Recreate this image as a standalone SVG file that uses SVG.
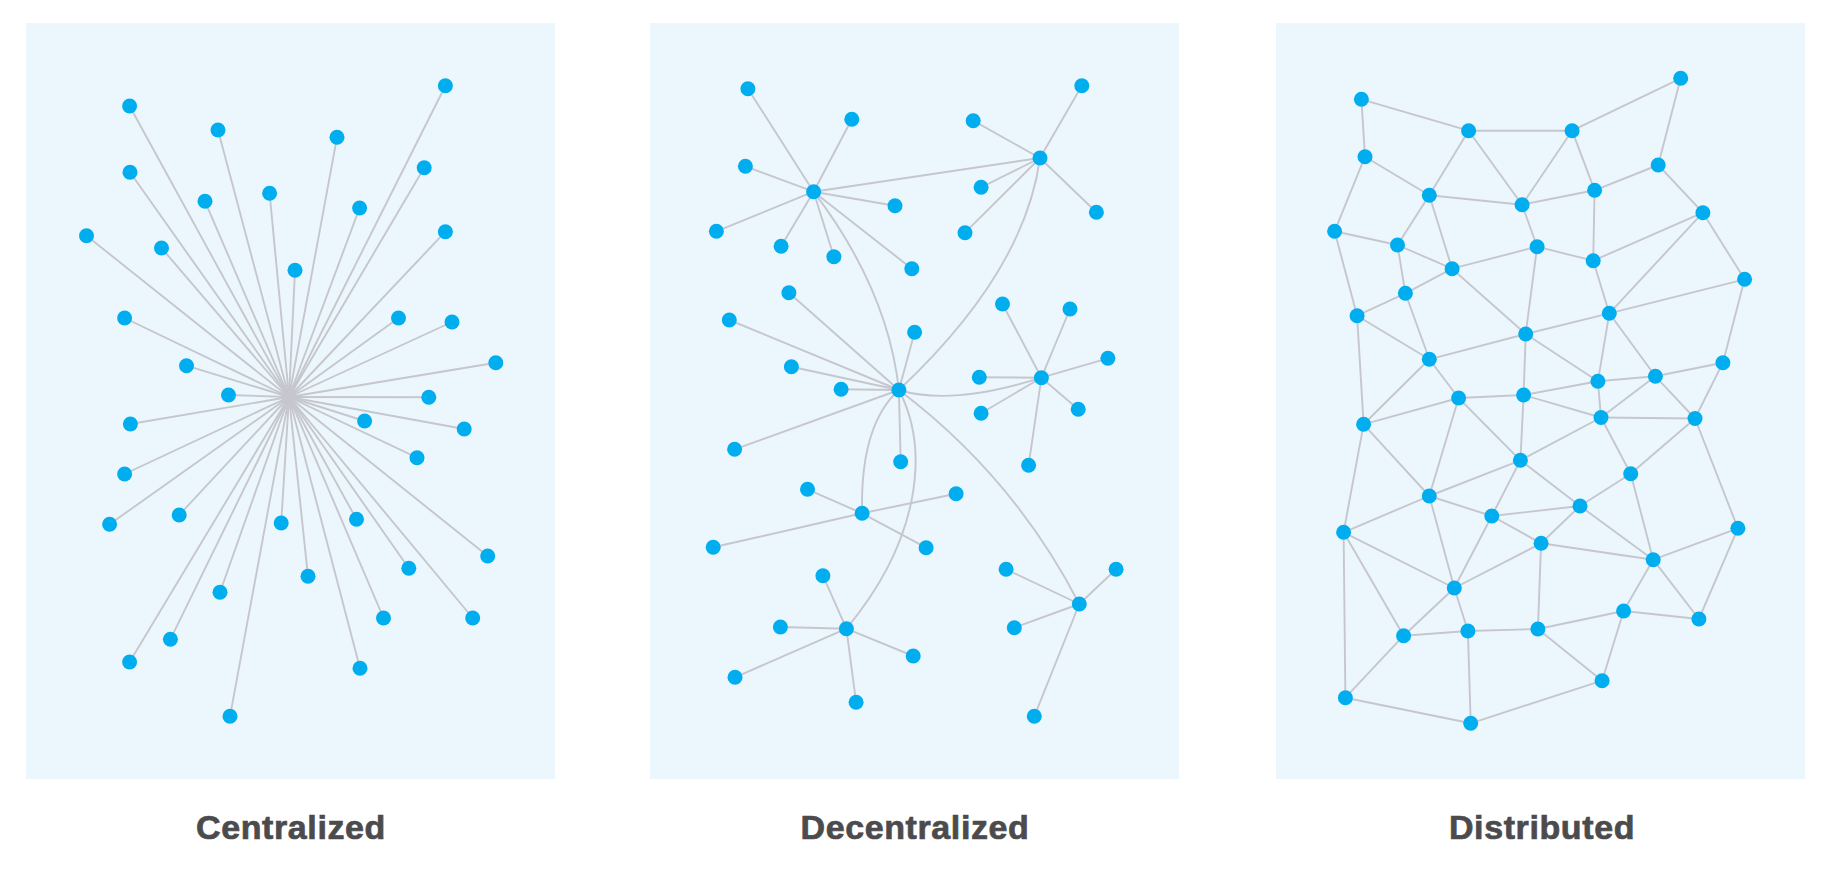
<svg xmlns="http://www.w3.org/2000/svg" width="1830" height="876" viewBox="0 0 1830 876">
<style>
.panel{fill:#ecf7fd}
.edge line,.edge path{stroke:#c6c6ce;stroke-width:1.9;fill:none;stroke-linecap:round}
.node circle{fill:#00aeef}
.label{font-family:"Liberation Sans",Arial,sans-serif;font-weight:700;font-size:34px;fill:#4b4b4d;stroke:#4b4b4d;stroke-width:0.7;text-anchor:middle;letter-spacing:0.6px}
</style>
<rect width="1830" height="876" fill="#ffffff"/>
<g id="panels">
<rect class="panel" x="26" y="23" width="529" height="756"/>
<rect class="panel" x="650" y="23" width="529" height="756"/>
<rect class="panel" x="1276" y="23" width="529" height="756"/>
</g>
<g id="connectors" class="edge">
<g id="centralized-edges">
<line x1="289" y1="397" x2="129.6" y2="106"/><line x1="289" y1="397" x2="218" y2="130"/><line x1="289" y1="397" x2="337" y2="137.3"/><line x1="289" y1="397" x2="445.4" y2="85.7"/><line x1="289" y1="397" x2="130" y2="172.3"/><line x1="289" y1="397" x2="424.2" y2="167.7"/><line x1="289" y1="397" x2="205" y2="201.3"/><line x1="289" y1="397" x2="269.6" y2="193.3"/><line x1="289" y1="397" x2="359.6" y2="208"/><line x1="289" y1="397" x2="86.5" y2="235.7"/><line x1="289" y1="397" x2="161.5" y2="248"/><line x1="289" y1="397" x2="445.4" y2="231.7"/><line x1="289" y1="397" x2="295" y2="270.3"/><line x1="289" y1="397" x2="124.6" y2="318"/><line x1="289" y1="397" x2="398.5" y2="318"/><line x1="289" y1="397" x2="452" y2="322"/><line x1="289" y1="397" x2="186.5" y2="365.7"/><line x1="289" y1="397" x2="495.8" y2="362.7"/><line x1="289" y1="397" x2="228.5" y2="395"/><line x1="289" y1="397" x2="428.8" y2="397.3"/><line x1="289" y1="397" x2="130.4" y2="424"/><line x1="289" y1="397" x2="364.6" y2="421"/><line x1="289" y1="397" x2="464.2" y2="429"/><line x1="289" y1="397" x2="417" y2="457.7"/><line x1="289" y1="397" x2="124.6" y2="474"/><line x1="289" y1="397" x2="109.6" y2="524.3"/><line x1="289" y1="397" x2="179.2" y2="515"/><line x1="289" y1="397" x2="281.2" y2="523"/><line x1="289" y1="397" x2="356.5" y2="519.3"/><line x1="289" y1="397" x2="487.7" y2="556"/><line x1="289" y1="397" x2="408.8" y2="568.3"/><line x1="289" y1="397" x2="308" y2="576.3"/><line x1="289" y1="397" x2="220" y2="592.3"/><line x1="289" y1="397" x2="383.5" y2="618"/><line x1="289" y1="397" x2="472.7" y2="618"/><line x1="289" y1="397" x2="170.4" y2="639.3"/><line x1="289" y1="397" x2="129.6" y2="662"/><line x1="289" y1="397" x2="360" y2="668.3"/><line x1="289" y1="397" x2="230" y2="716.3"/>
</g>
<g id="decentralized-edges">
<line x1="813.6" y1="191.7" x2="747.9" y2="88.7"/><line x1="813.6" y1="191.7" x2="851.8" y2="119.3"/><line x1="813.6" y1="191.7" x2="745.4" y2="166.3"/><line x1="813.6" y1="191.7" x2="716.4" y2="231.3"/><line x1="813.6" y1="191.7" x2="781.1" y2="246.3"/><line x1="813.6" y1="191.7" x2="833.9" y2="256.7"/><line x1="813.6" y1="191.7" x2="895" y2="205.7"/><line x1="813.6" y1="191.7" x2="911.8" y2="268.7"/>
<line x1="813.6" y1="191.7" x2="1040" y2="158"/>
<line x1="1040" y1="158" x2="1081.8" y2="85.7"/><line x1="1040" y1="158" x2="973.2" y2="120.7"/><line x1="1040" y1="158" x2="981.1" y2="187.3"/><line x1="1040" y1="158" x2="965" y2="232.7"/><line x1="1040" y1="158" x2="1096.4" y2="212.3"/>
<line x1="898.9" y1="390" x2="788.9" y2="292.7"/><line x1="898.9" y1="390" x2="729.3" y2="320"/><line x1="898.9" y1="390" x2="914.6" y2="332.3"/><line x1="898.9" y1="390" x2="791.4" y2="366.7"/><line x1="898.9" y1="390" x2="841.1" y2="389.3"/><line x1="898.9" y1="390" x2="734.6" y2="449.3"/><line x1="898.9" y1="390" x2="900.7" y2="461.7"/>
<path d="M813.6,191.7 Q887.8,289.2 898.9,390"/>
<path d="M1040,158 Q1024.6,272 898.9,390"/>
<path d="M898.9,390 Q951.8,406.2 1041.4,377.7"/>
<path d="M898.9,390 Q860,425 862.1,513.3"/>
<path d="M898.9,390 C930,450 920,540 846.4,628.7"/>
<path d="M898.9,390 Q1013.5,476.4 1079.3,604"/>
<line x1="1041.4" y1="377.7" x2="1002.5" y2="304"/><line x1="1041.4" y1="377.7" x2="1070" y2="309"/><line x1="1041.4" y1="377.7" x2="1107.9" y2="358.3"/><line x1="1041.4" y1="377.7" x2="979.3" y2="377.3"/><line x1="1041.4" y1="377.7" x2="981.1" y2="413.3"/><line x1="1041.4" y1="377.7" x2="1078.2" y2="409.3"/><line x1="1041.4" y1="377.7" x2="1028.6" y2="465.3"/>
<line x1="862.1" y1="513.3" x2="807.5" y2="489.3"/><line x1="862.1" y1="513.3" x2="956.1" y2="493.7"/><line x1="862.1" y1="513.3" x2="713.2" y2="547.3"/><line x1="862.1" y1="513.3" x2="926.1" y2="547.7"/>
<line x1="846.4" y1="628.7" x2="822.9" y2="575.7"/><line x1="846.4" y1="628.7" x2="780.4" y2="627"/><line x1="846.4" y1="628.7" x2="735" y2="677.3"/><line x1="846.4" y1="628.7" x2="913.2" y2="656"/><line x1="846.4" y1="628.7" x2="856.1" y2="702.3"/>
<line x1="1079.3" y1="604" x2="1006.1" y2="569.3"/><line x1="1079.3" y1="604" x2="1116.1" y2="569.3"/><line x1="1079.3" y1="604" x2="1014.3" y2="627.7"/><line x1="1079.3" y1="604" x2="1034.3" y2="716.3"/>
</g>
<g id="distributed-edges">
<line x1="1361.4" y1="99.3" x2="1468.6" y2="130.7"/><line x1="1361.4" y1="99.3" x2="1365" y2="156.7"/><line x1="1468.6" y1="130.7" x2="1572.1" y2="130.7"/><line x1="1572.1" y1="130.7" x2="1680.7" y2="78.3"/><line x1="1680.7" y1="78.3" x2="1658.2" y2="165"/><line x1="1468.6" y1="130.7" x2="1429.3" y2="195.3"/><line x1="1468.6" y1="130.7" x2="1522.1" y2="204.7"/><line x1="1572.1" y1="130.7" x2="1522.1" y2="204.7"/><line x1="1572.1" y1="130.7" x2="1594.6" y2="190.3"/><line x1="1365" y1="156.7" x2="1429.3" y2="195.3"/><line x1="1365" y1="156.7" x2="1334.6" y2="231.3"/><line x1="1429.3" y1="195.3" x2="1522.1" y2="204.7"/><line x1="1429.3" y1="195.3" x2="1397.5" y2="245"/><line x1="1429.3" y1="195.3" x2="1452.1" y2="268.7"/><line x1="1522.1" y1="204.7" x2="1594.6" y2="190.3"/><line x1="1522.1" y1="204.7" x2="1537.1" y2="246.7"/><line x1="1594.6" y1="190.3" x2="1658.2" y2="165"/><line x1="1594.6" y1="190.3" x2="1593.2" y2="260.7"/><line x1="1658.2" y1="165" x2="1702.9" y2="212.7"/><line x1="1702.9" y1="212.7" x2="1593.2" y2="260.7"/><line x1="1702.9" y1="212.7" x2="1744.6" y2="279.3"/><line x1="1702.9" y1="212.7" x2="1609.3" y2="313.3"/><line x1="1334.6" y1="231.3" x2="1397.5" y2="245"/><line x1="1334.6" y1="231.3" x2="1357.1" y2="315.7"/><line x1="1397.5" y1="245" x2="1452.1" y2="268.7"/><line x1="1397.5" y1="245" x2="1405.4" y2="293.3"/><line x1="1537.1" y1="246.7" x2="1452.1" y2="268.7"/><line x1="1537.1" y1="246.7" x2="1593.2" y2="260.7"/><line x1="1537.1" y1="246.7" x2="1525.7" y2="334"/><line x1="1593.2" y1="260.7" x2="1609.3" y2="313.3"/><line x1="1452.1" y1="268.7" x2="1405.4" y2="293.3"/><line x1="1452.1" y1="268.7" x2="1525.7" y2="334"/><line x1="1744.6" y1="279.3" x2="1609.3" y2="313.3"/><line x1="1744.6" y1="279.3" x2="1722.9" y2="362.7"/><line x1="1405.4" y1="293.3" x2="1357.1" y2="315.7"/><line x1="1405.4" y1="293.3" x2="1429.3" y2="359.3"/><line x1="1357.1" y1="315.7" x2="1429.3" y2="359.3"/><line x1="1357.1" y1="315.7" x2="1363.6" y2="424.3"/><line x1="1609.3" y1="313.3" x2="1525.7" y2="334"/><line x1="1609.3" y1="313.3" x2="1597.9" y2="381.3"/><line x1="1609.3" y1="313.3" x2="1655.4" y2="376.3"/><line x1="1525.7" y1="334" x2="1429.3" y2="359.3"/><line x1="1525.7" y1="334" x2="1523.6" y2="395"/><line x1="1525.7" y1="334" x2="1597.9" y2="381.3"/><line x1="1429.3" y1="359.3" x2="1458.6" y2="398"/><line x1="1429.3" y1="359.3" x2="1363.6" y2="424.3"/><line x1="1722.9" y1="362.7" x2="1655.4" y2="376.3"/><line x1="1722.9" y1="362.7" x2="1695" y2="418.5"/><line x1="1597.9" y1="381.3" x2="1655.4" y2="376.3"/><line x1="1597.9" y1="381.3" x2="1523.6" y2="395"/><line x1="1597.9" y1="381.3" x2="1601" y2="417.5"/><line x1="1655.4" y1="376.3" x2="1601" y2="417.5"/><line x1="1655.4" y1="376.3" x2="1695" y2="418.5"/><line x1="1458.6" y1="398" x2="1523.6" y2="395"/><line x1="1458.6" y1="398" x2="1363.6" y2="424.3"/><line x1="1523.6" y1="395" x2="1601" y2="417.5"/><line x1="1601" y1="417.5" x2="1695" y2="418.5"/>
<line x1="1458.6" y1="398" x2="1520.4" y2="460.3"/><line x1="1458.6" y1="398" x2="1429.3" y2="496"/><line x1="1523.6" y1="395" x2="1520.4" y2="460.3"/><line x1="1601" y1="417.5" x2="1520.4" y2="460.3"/><line x1="1601" y1="417.5" x2="1630.7" y2="473.7"/><line x1="1695" y1="418.5" x2="1630.7" y2="473.7"/><line x1="1695" y1="418.5" x2="1737.9" y2="528.3"/><line x1="1363.6" y1="424.3" x2="1429.3" y2="496"/><line x1="1363.6" y1="424.3" x2="1343.6" y2="532.3"/><line x1="1520.4" y1="460.3" x2="1429.3" y2="496"/><line x1="1520.4" y1="460.3" x2="1491.8" y2="516"/><line x1="1520.4" y1="460.3" x2="1580" y2="506"/><line x1="1630.7" y1="473.7" x2="1580" y2="506"/><line x1="1630.7" y1="473.7" x2="1653.2" y2="559.7"/><line x1="1429.3" y1="496" x2="1491.8" y2="516"/><line x1="1429.3" y1="496" x2="1343.6" y2="532.3"/><line x1="1429.3" y1="496" x2="1454.3" y2="588"/><line x1="1580" y1="506" x2="1491.8" y2="516"/><line x1="1580" y1="506" x2="1541.1" y2="543.3"/><line x1="1580" y1="506" x2="1653.2" y2="559.7"/><line x1="1491.8" y1="516" x2="1541.1" y2="543.3"/><line x1="1491.8" y1="516" x2="1454.3" y2="588"/><line x1="1343.6" y1="532.3" x2="1454.3" y2="588"/><line x1="1343.6" y1="532.3" x2="1403.6" y2="635.7"/><line x1="1343.6" y1="532.3" x2="1345.4" y2="697.7"/><line x1="1737.9" y1="528.3" x2="1653.2" y2="559.7"/><line x1="1737.9" y1="528.3" x2="1698.9" y2="619"/><line x1="1541.1" y1="543.3" x2="1653.2" y2="559.7"/><line x1="1541.1" y1="543.3" x2="1454.3" y2="588"/><line x1="1541.1" y1="543.3" x2="1537.9" y2="629"/><line x1="1653.2" y1="559.7" x2="1623.6" y2="611"/><line x1="1653.2" y1="559.7" x2="1698.9" y2="619"/><line x1="1454.3" y1="588" x2="1403.6" y2="635.7"/><line x1="1454.3" y1="588" x2="1467.9" y2="631"/><line x1="1623.6" y1="611" x2="1698.9" y2="619"/><line x1="1623.6" y1="611" x2="1537.9" y2="629"/><line x1="1623.6" y1="611" x2="1602.1" y2="680.7"/><line x1="1403.6" y1="635.7" x2="1467.9" y2="631"/><line x1="1403.6" y1="635.7" x2="1345.4" y2="697.7"/><line x1="1467.9" y1="631" x2="1537.9" y2="629"/><line x1="1467.9" y1="631" x2="1470.7" y2="723.3"/><line x1="1537.9" y1="629" x2="1602.1" y2="680.7"/><line x1="1602.1" y1="680.7" x2="1470.7" y2="723.3"/><line x1="1345.4" y1="697.7" x2="1470.7" y2="723.3"/>
</g>
</g>
<g id="centralized-nodes" class="node">
<g id="c1"><circle cx="129.6" cy="106" r="7.5"/></g><g id="c2"><circle cx="218" cy="130" r="7.5"/></g><g id="c3"><circle cx="337" cy="137.3" r="7.5"/></g><g id="c4"><circle cx="445.4" cy="85.7" r="7.5"/></g><g id="c5"><circle cx="130" cy="172.3" r="7.5"/></g><g id="c6"><circle cx="424.2" cy="167.7" r="7.5"/></g><g id="c7"><circle cx="205" cy="201.3" r="7.5"/></g><g id="c8"><circle cx="269.6" cy="193.3" r="7.5"/></g><g id="c9"><circle cx="359.6" cy="208" r="7.5"/></g><g id="c10"><circle cx="86.5" cy="235.7" r="7.5"/></g><g id="c11"><circle cx="161.5" cy="248" r="7.5"/></g><g id="c12"><circle cx="445.4" cy="231.7" r="7.5"/></g><g id="c13"><circle cx="295" cy="270.3" r="7.5"/></g><g id="c14"><circle cx="124.6" cy="318" r="7.5"/></g><g id="c15"><circle cx="398.5" cy="318" r="7.5"/></g><g id="c16"><circle cx="452" cy="322" r="7.5"/></g><g id="c17"><circle cx="186.5" cy="365.7" r="7.5"/></g><g id="c18"><circle cx="495.8" cy="362.7" r="7.5"/></g><g id="c19"><circle cx="228.5" cy="395" r="7.5"/></g><g id="c20"><circle cx="428.8" cy="397.3" r="7.5"/></g><g id="c21"><circle cx="130.4" cy="424" r="7.5"/></g><g id="c22"><circle cx="364.6" cy="421" r="7.5"/></g><g id="c23"><circle cx="464.2" cy="429" r="7.5"/></g><g id="c24"><circle cx="417" cy="457.7" r="7.5"/></g><g id="c25"><circle cx="124.6" cy="474" r="7.5"/></g><g id="c26"><circle cx="109.6" cy="524.3" r="7.5"/></g><g id="c27"><circle cx="179.2" cy="515" r="7.5"/></g><g id="c28"><circle cx="281.2" cy="523" r="7.5"/></g><g id="c29"><circle cx="356.5" cy="519.3" r="7.5"/></g><g id="c30"><circle cx="487.7" cy="556" r="7.5"/></g><g id="c31"><circle cx="408.8" cy="568.3" r="7.5"/></g><g id="c32"><circle cx="308" cy="576.3" r="7.5"/></g><g id="c33"><circle cx="220" cy="592.3" r="7.5"/></g><g id="c34"><circle cx="383.5" cy="618" r="7.5"/></g><g id="c35"><circle cx="472.7" cy="618" r="7.5"/></g><g id="c36"><circle cx="170.4" cy="639.3" r="7.5"/></g><g id="c37"><circle cx="129.6" cy="662" r="7.5"/></g><g id="c38"><circle cx="360" cy="668.3" r="7.5"/></g><g id="c39"><circle cx="230" cy="716.3" r="7.5"/></g>
</g>
<g id="decentralized-nodes" class="node">
<g id="hubA"><circle cx="813.6" cy="191.7" r="7.5"/></g><g id="a1"><circle cx="747.9" cy="88.7" r="7.5"/></g><g id="a2"><circle cx="851.8" cy="119.3" r="7.5"/></g><g id="a3"><circle cx="745.4" cy="166.3" r="7.5"/></g><g id="a4"><circle cx="716.4" cy="231.3" r="7.5"/></g><g id="a5"><circle cx="781.1" cy="246.3" r="7.5"/></g><g id="a6"><circle cx="833.9" cy="256.7" r="7.5"/></g><g id="a7"><circle cx="895" cy="205.7" r="7.5"/></g><g id="a8"><circle cx="911.8" cy="268.7" r="7.5"/></g>
<g id="hubB"><circle cx="1040" cy="158" r="7.5"/></g><g id="b1"><circle cx="1081.8" cy="85.7" r="7.5"/></g><g id="b2"><circle cx="973.2" cy="120.7" r="7.5"/></g><g id="b3"><circle cx="981.1" cy="187.3" r="7.5"/></g><g id="b4"><circle cx="965" cy="232.7" r="7.5"/></g><g id="b5"><circle cx="1096.4" cy="212.3" r="7.5"/></g>
<g id="hubC"><circle cx="898.9" cy="390" r="7.5"/></g><g id="cc1"><circle cx="788.9" cy="292.7" r="7.5"/></g><g id="cc2"><circle cx="729.3" cy="320" r="7.5"/></g><g id="cc3"><circle cx="914.6" cy="332.3" r="7.5"/></g><g id="cc4"><circle cx="791.4" cy="366.7" r="7.5"/></g><g id="cc5"><circle cx="841.1" cy="389.3" r="7.5"/></g><g id="cc6"><circle cx="734.6" cy="449.3" r="7.5"/></g><g id="cc7"><circle cx="900.7" cy="461.7" r="7.5"/></g>
<g id="hubD"><circle cx="1041.4" cy="377.7" r="7.5"/></g><g id="d1"><circle cx="1002.5" cy="304" r="7.5"/></g><g id="d2"><circle cx="1070" cy="309" r="7.5"/></g><g id="d3"><circle cx="1107.9" cy="358.3" r="7.5"/></g><g id="d4"><circle cx="979.3" cy="377.3" r="7.5"/></g><g id="d5"><circle cx="981.1" cy="413.3" r="7.5"/></g><g id="d6"><circle cx="1078.2" cy="409.3" r="7.5"/></g><g id="d7"><circle cx="1028.6" cy="465.3" r="7.5"/></g>
<g id="hubE"><circle cx="862.1" cy="513.3" r="7.5"/></g><g id="e1"><circle cx="807.5" cy="489.3" r="7.5"/></g><g id="e2"><circle cx="956.1" cy="493.7" r="7.5"/></g><g id="e3"><circle cx="713.2" cy="547.3" r="7.5"/></g><g id="e4"><circle cx="926.1" cy="547.7" r="7.5"/></g>
<g id="hubF"><circle cx="846.4" cy="628.7" r="7.5"/></g><g id="f1"><circle cx="822.9" cy="575.7" r="7.5"/></g><g id="f2"><circle cx="780.4" cy="627" r="7.5"/></g><g id="f3"><circle cx="735" cy="677.3" r="7.5"/></g><g id="f4"><circle cx="913.2" cy="656" r="7.5"/></g><g id="f5"><circle cx="856.1" cy="702.3" r="7.5"/></g>
<g id="hubG"><circle cx="1079.3" cy="604" r="7.5"/></g><g id="g1"><circle cx="1006.1" cy="569.3" r="7.5"/></g><g id="g2"><circle cx="1116.1" cy="569.3" r="7.5"/></g><g id="g3"><circle cx="1014.3" cy="627.7" r="7.5"/></g><g id="g4"><circle cx="1034.3" cy="716.3" r="7.5"/></g>
</g>
<g id="distributed-nodes" class="node">
<g id="n1"><circle cx="1361.4" cy="99.3" r="7.5"/></g><g id="n2"><circle cx="1468.6" cy="130.7" r="7.5"/></g><g id="n3"><circle cx="1572.1" cy="130.7" r="7.5"/></g><g id="n4"><circle cx="1680.7" cy="78.3" r="7.5"/></g><g id="n5"><circle cx="1365" cy="156.7" r="7.5"/></g><g id="n6"><circle cx="1429.3" cy="195.3" r="7.5"/></g><g id="n7"><circle cx="1522.1" cy="204.7" r="7.5"/></g><g id="n8"><circle cx="1594.6" cy="190.3" r="7.5"/></g><g id="n9"><circle cx="1658.2" cy="165" r="7.5"/></g><g id="n10"><circle cx="1702.9" cy="212.7" r="7.5"/></g><g id="n11"><circle cx="1334.6" cy="231.3" r="7.5"/></g><g id="n12"><circle cx="1397.5" cy="245" r="7.5"/></g><g id="n13"><circle cx="1537.1" cy="246.7" r="7.5"/></g><g id="n14"><circle cx="1593.2" cy="260.7" r="7.5"/></g><g id="n15"><circle cx="1452.1" cy="268.7" r="7.5"/></g><g id="n16"><circle cx="1744.6" cy="279.3" r="7.5"/></g><g id="n17"><circle cx="1405.4" cy="293.3" r="7.5"/></g><g id="n18"><circle cx="1357.1" cy="315.7" r="7.5"/></g><g id="n19"><circle cx="1609.3" cy="313.3" r="7.5"/></g><g id="n20"><circle cx="1525.7" cy="334" r="7.5"/></g><g id="n21"><circle cx="1429.3" cy="359.3" r="7.5"/></g><g id="n22"><circle cx="1722.9" cy="362.7" r="7.5"/></g><g id="n23"><circle cx="1597.9" cy="381.3" r="7.5"/></g><g id="n24"><circle cx="1655.4" cy="376.3" r="7.5"/></g><g id="n25"><circle cx="1458.6" cy="398" r="7.5"/></g><g id="n26"><circle cx="1523.6" cy="395" r="7.5"/></g><g id="n27"><circle cx="1363.6" cy="424.3" r="7.5"/></g><g id="n28"><circle cx="1601" cy="417.5" r="7.5"/></g><g id="n29"><circle cx="1695" cy="418.5" r="7.5"/></g><g id="n30"><circle cx="1520.4" cy="460.3" r="7.5"/></g><g id="n31"><circle cx="1630.7" cy="473.7" r="7.5"/></g><g id="n32"><circle cx="1429.3" cy="496" r="7.5"/></g><g id="n33"><circle cx="1580" cy="506" r="7.5"/></g><g id="n34"><circle cx="1491.8" cy="516" r="7.5"/></g><g id="n35"><circle cx="1343.6" cy="532.3" r="7.5"/></g><g id="n36"><circle cx="1737.9" cy="528.3" r="7.5"/></g><g id="n37"><circle cx="1541.1" cy="543.3" r="7.5"/></g><g id="n38"><circle cx="1653.2" cy="559.7" r="7.5"/></g><g id="n39"><circle cx="1454.3" cy="588" r="7.5"/></g><g id="n40"><circle cx="1623.6" cy="611" r="7.5"/></g><g id="n41"><circle cx="1698.9" cy="619" r="7.5"/></g><g id="n42"><circle cx="1403.6" cy="635.7" r="7.5"/></g><g id="n43"><circle cx="1467.9" cy="631" r="7.5"/></g><g id="n44"><circle cx="1537.9" cy="629" r="7.5"/></g><g id="n45"><circle cx="1602.1" cy="680.7" r="7.5"/></g><g id="n46"><circle cx="1345.4" cy="697.7" r="7.5"/></g><g id="n47"><circle cx="1470.7" cy="723.3" r="7.5"/></g>
</g>
<g id="labels">
<text class="label" x="291" y="839">Centralized</text>
<text class="label" x="915" y="839">Decentralized</text>
<text class="label" x="1542" y="839">Distributed</text>
</g>
</svg>
